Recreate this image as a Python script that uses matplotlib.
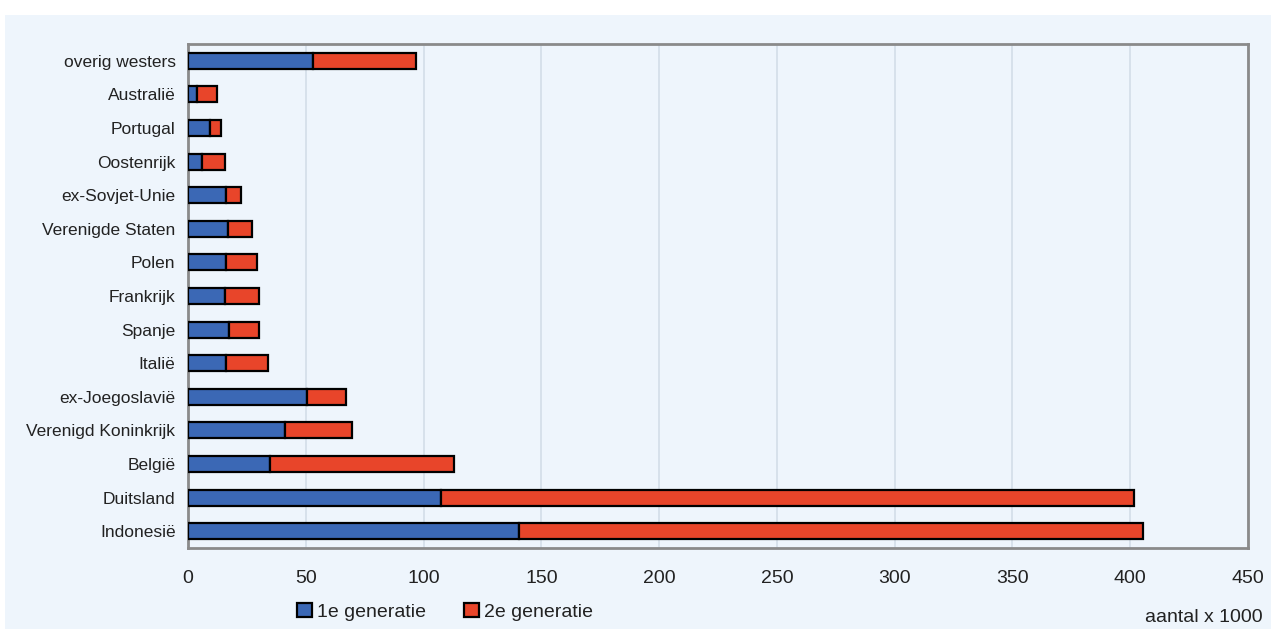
import matplotlib.pyplot as plt
import numpy as np

plt.rcParams['font.family'] = ['Liberation Sans', 'DejaVu Sans']

# Data (aantal x 1000), bottom to top
landen = ["Indonesië", "Duitsland", "België", "Verenigd Koninkrijk", "ex-Joegoslavië",
          "Italië", "Spanje", "Frankrijk", "Polen", "Verenigde Staten",
          "ex-Sovjet-Unie", "Oostenrijk", "Portugal", "Australië", "overig westers"]
eerste_gen = [140.5, 107.5, 35, 41, 50.5, 16, 17.5, 15.5, 16, 17, 16, 6, 9.5, 4, 53]
totaal = [405.5, 401.5, 113, 69.5, 67, 34, 30, 30, 29.5, 27, 22.5, 15.5, 14, 12.5, 97]
tweede_gen = [t - e for t, e in zip(totaal, eerste_gen)]

BG = "#eef5fc"
BLUE = "#3b68b5"
RED = "#e8452a"

fig = plt.figure(figsize=(12.71, 6.29), dpi=100, facecolor="white")
# light blue panel below the white strip at the top
fig.patches.append(plt.Rectangle((5 / 1271, 0), 1, 1 - 15 / 629, transform=fig.transFigure,
                                 facecolor=BG, edgecolor="none", zorder=-10))

ax = fig.add_axes([188 / 1271, 1 - 548 / 629, (1248 - 188) / 1271, (548 - 44) / 629])
ax.set_facecolor(BG)

y = np.arange(len(landen))
ax.barh(y, eerste_gen, height=0.48, color=BLUE, edgecolor="black", linewidth=1.6,
        label="1e generatie", zorder=3)
ax.barh(y, tweede_gen, left=eerste_gen, height=0.48, color=RED, edgecolor="black",
        linewidth=1.6, label="2e generatie", zorder=3)

ax.set_xlim(0, 450)
ax.set_ylim(-0.5, len(landen) - 0.5)
ax.set_xticks(np.arange(0, 451, 50))
ax.set_yticks(y)
ax.set_yticklabels(landen, fontsize=12.5)
ax.tick_params(axis="x", length=0, pad=16, labelsize=14, colors="#222222")
ax.tick_params(axis="y", length=0, pad=9, colors="#222222")
ax.xaxis.grid(True, color="#d3dde8", linewidth=1.2, zorder=0)
ax.set_axisbelow(True)
for s in ax.spines.values():
    s.set_color("#8a8a8a")
    s.set_linewidth(2)

leg = fig.legend(loc="center", bbox_to_anchor=(445 / 1271, 1 - 612 / 629), ncol=2,
                 frameon=False, fontsize=14, handlelength=0.75, handleheight=0.75,
                 handletextpad=0.25, columnspacing=2.0, labelcolor="#222222")
fig.text(1263 / 1271, 1 - 618 / 629, "aantal x 1000", ha="right", va="center",
         fontsize=14, color="#222222")

fig.savefig("out.png", dpi=100, facecolor=fig.get_facecolor())
